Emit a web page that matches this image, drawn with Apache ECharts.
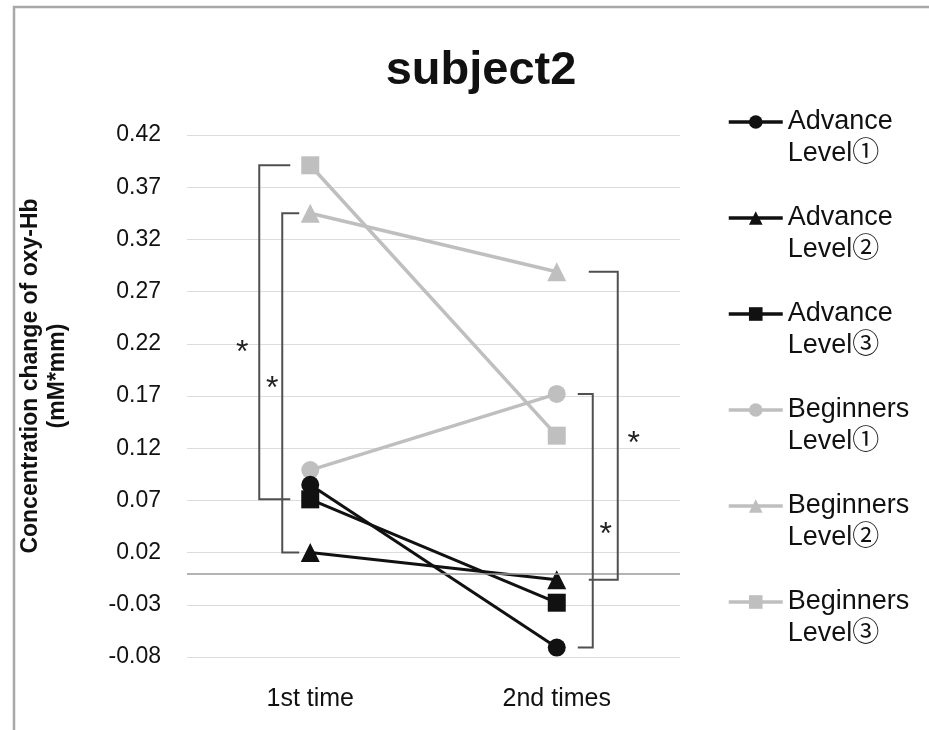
<!DOCTYPE html>
<html>
<head>
<meta charset="utf-8">
<script src="https://cdn.jsdelivr.net/npm/echarts@6/dist/echarts.min.js"></script>
<style>html,body{margin:0;padding:0;background:#fff}#main{width:929px;height:730px}</style>
</head>
<body>
<div id="main"></div>
<script>
// ---- data ----
const categories = ['1st time', '2nd times'];
const seriesNames = ['Advance\nLevel①', 'Advance\nLevel②', 'Advance\nLevel③',
                     'Beginners\nLevel①', 'Beginners\nLevel②', 'Beginners\nLevel③'];
const advance1 = [0.085, -0.071];
const advance2 = [0.020, -0.006];
const advance3 = [0.071, -0.028];
const beginners1 = [0.099, 0.172];
const beginners2 = [0.345, 0.289];
const beginners3 = [0.391, 0.132];
const yMin = -0.08, yMax = 0.42, yStep = 0.05;
// significance brackets: [category index, upper series, lower series]
const bracketPairs = [
  [0, beginners3, advance3],
  [0, beginners2, advance2],
  [1, beginners2, advance2],
  [1, beginners1, advance1]
];
const bracketLabel = '*';

// ---- styles ----
const FONT = '"Liberation Sans", Arial, "Noto Sans CJK JP", sans-serif';
const BLACK = '#111111', GRAY = '#bfbfbf';
const seriesValues = [advance1, advance2, advance3, beginners1, beginners2, beginners3];
const seriesSymbols = ['circle', 'triangle', 'rect', 'circle', 'triangle', 'rect'];
const seriesColors = [BLACK, BLACK, BLACK, GRAY, GRAY, GRAY];
// pixel offsets for brackets: vertical line offset, horizontal arm end offset, star offset
const bracketGeom = [
  {v: -51, arm: -20, star: -17, dy: 21},
  {v: -28, arm: -11, star: -10, dy: 6},
  {v: 61, arm: 32, star: 16, dy: 18},
  {v: 36, arm: 21, star: 13, dy: 14}
];

const bracketData = bracketPairs.map(b => [b[0], b[1][b[0]], b[2][b[0]]]);

const series = seriesNames.map((name, i) => ({
  name: name,
  type: 'line',
  data: seriesValues[i],
  symbol: seriesSymbols[i],
  symbolSize: seriesSymbols[i] === 'triangle' ? 19 : 18,
  showSymbol: true,
  z: i < 3 ? 4 : 3,
  itemStyle: {color: seriesColors[i]},
  lineStyle: {color: seriesColors[i], width: i < 3 ? 3 : 3.5},
  emphasis: {disabled: true},
  animation: false
}));

series[0].markLine = {
  silent: true,
  symbol: 'none',
  label: {show: false},
  lineStyle: {color: '#9a9a9a', width: 1.5, type: 'solid'},
  data: [{yAxis: 0}],
  animation: false
};

series.push({
  type: 'custom',
  coordinateSystem: 'cartesian2d',
  data: bracketData,
  z: 5,
  silent: true,
  animation: false,
  renderItem: function (params, api) {
    const g = bracketGeom[params.dataIndex];
    const top = api.coord([api.value(0), api.value(1)]);
    const bot = api.coord([api.value(0), api.value(2)]);
    const x0 = top[0];
    const vx = x0 + g.v;
    const ax = x0 + g.arm;
    const my = (top[1] + bot[1]) / 2 + g.dy;
    return {
      type: 'group',
      children: [
        {type: 'polyline', shape: {points: [[ax, top[1]], [vx, top[1]], [vx, bot[1]], [ax, bot[1]]]},
         style: {stroke: '#505050', lineWidth: 2, fill: null}},
        {type: 'text', x: vx + g.star, y: my,
         style: {text: bracketLabel, font: '32px ' + FONT, fill: '#222', align: 'center', verticalAlign: 'middle'}}
      ]
    };
  }
});

const chart = echarts.init(document.getElementById('main'), null, {renderer: 'canvas'});
chart.setOption({
  backgroundColor: '#ffffff',
  animation: false,
  title: {
    text: 'subject2',
    left: 476, top: 43, textAlign: 'center',
    textStyle: {fontFamily: FONT, fontSize: 47, fontWeight: 'bold', color: '#111'}
  },
  graphic: [
    {type: 'rect', shape: {x: 14, y: 7, width: 940, height: 760},
     style: {fill: null, stroke: '#a8a8a8', lineWidth: 2.5}, silent: true},
    {type: 'text', x: 44, y: 376, rotation: Math.PI / 2,
     style: {text: 'Concentration change of oxy-Hb\n(mM*mm)', font: 'bold 23px ' + FONT,
             fill: '#111', align: 'center', verticalAlign: 'middle', lineHeight: 27}}
  ],
  legend: {
    orient: 'vertical',
    left: 727, top: 74,
    padding: 0,
    itemGap: 0,
    itemWidth: 54, itemHeight: 17,
    data: seriesNames,
    selectedMode: false,
    formatter: name => ' \n' + name,
    lineStyle: {width: 3.5},
    textStyle: {fontFamily: FONT, fontSize: 27, color: '#111', lineHeight: 32}
  },
  grid: {left: 187, right: 249, top: 135, bottom: 73, containLabel: false},
  xAxis: {
    type: 'category',
    data: categories,
    boundaryGap: true,
    axisLine: {show: false},
    axisTick: {show: false},
    axisLabel: {fontFamily: FONT, fontSize: 25, color: '#111', margin: 30}
  },
  yAxis: {
    type: 'value',
    min: yMin, max: yMax, interval: yStep,
    axisLine: {show: false},
    axisTick: {show: false},
    splitLine: {lineStyle: {color: '#dcdcdc', width: 1}},
    axisLabel: {fontFamily: FONT, fontSize: 23, color: '#111', margin: 26,
                formatter: v => v.toFixed(2)}
  },
  series: series
});
</script>
</body>
</html>
